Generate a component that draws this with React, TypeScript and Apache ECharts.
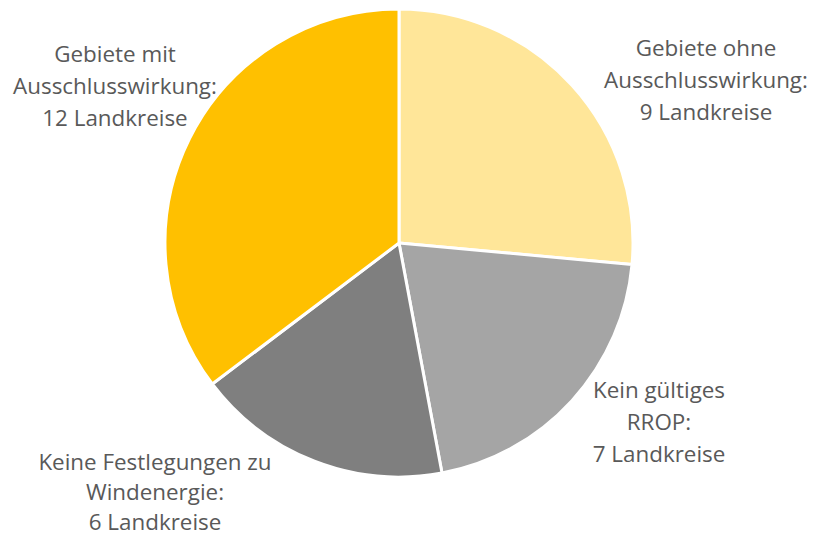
import React, { useEffect, useRef } from "react";
import * as echarts from "echarts";

const categories = [
  "Gebiete ohne\nAusschlusswirkung:",
  "Kein gültiges\nRROP:",
  "Keine Festlegungen zu\nWindenergie:",
  "Gebiete mit\nAusschlusswirkung:",
];
const values = [9, 7, 6, 12];
const unit = "Landkreise";
const colors = ["#FFE699", "#A5A5A5", "#7F7F7F", "#FFC000"];
const labelPositions = [
  [706, 79],
  [659, 421],
  [155, 491],
  [115, 85],
];
const labelLineHeights = [32, 32, 30, 32];

export default function App() {
  const ref = useRef<HTMLDivElement>(null);
  useEffect(() => {
    if (!ref.current) return;
    const chart = echarts.init(ref.current, null, { renderer: "svg" });
    chart.setOption({
      animation: false,
      backgroundColor: "#ffffff",
      series: [
        {
          type: "pie",
          center: [399, 243],
          radius: 234,
          startAngle: 90,
          clockwise: true,
          data: categories.map((c, i) => ({
            name: c,
            value: values[i],
            itemStyle: { color: colors[i] },
            label: { lineHeight: labelLineHeights[i] },
          })),
          itemStyle: { borderColor: "#ffffff", borderWidth: 3 },
          label: {
            show: true,
            position: "outside",
            formatter: (p: any) => `${p.name}\n${p.value} ${unit}`,
            color: "#595959",
            fontFamily: "Open Sans",
            fontSize: 22.4,
            lineHeight: 32,
            align: "center",
            overflow: "none",
          },
          labelLine: { show: false },
          labelLayout: (params: any) => {
            const pos = labelPositions[params.dataIndex];
            return { x: pos[0], y: pos[1], align: "center", verticalAlign: "middle" };
          },
          emphasis: { disabled: true },
        },
      ],
    });
    return () => chart.dispose();
  }, []);
  return (
    <div
      ref={ref}
      style={{ position: "fixed", left: 0, top: 0, width: 818, height: 536 }}
    />
  );
}
